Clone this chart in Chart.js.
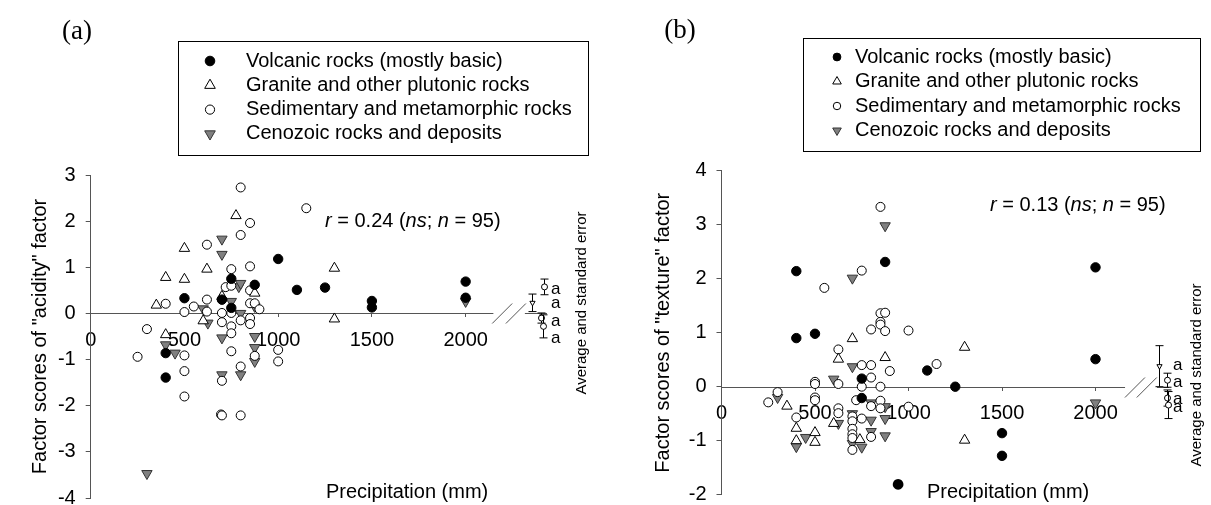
<!DOCTYPE html>
<html>
<head>
<meta charset="utf-8">
<title>Factor scores vs precipitation</title>
<script src="https://cdn.jsdelivr.net/npm/chart.js@4.4.1/dist/chart.umd.min.js"></script>
<style>
  html, body { margin: 0; padding: 0; background: #fff; }
  #wrap { position: relative; width: 1211px; height: 505px; overflow: hidden; }
  canvas { position: absolute; top: 0; }
</style>
</head>
<body>
<div id="wrap">
  <canvas id="chartA" width="605" height="505" style="left:0"></canvas>
  <canvas id="chartB" width="606" height="505" style="left:605px"></canvas>
</div>
<script>
const SANS = '"Liberation Sans", Arial, Helvetica, sans-serif';
const SERIF = '"Liberation Serif", "DejaVu Serif", "Times New Roman", serif';

const groups = [
  'Volcanic rocks (mostly basic)',
  'Granite and other plutonic rocks',
  'Sedimentary and metamorphic rocks',
  'Cenozoic rocks and deposits'
];
const xTicks = [0, 500, 1000, 1500, 2000];
const yTicksA = [-4, -3, -2, -1, 0, 1, 2, 3];
const yTicksB = [-2, -1, 0, 1, 2, 3, 4];

// (a) "acidity" factor scores: [precipitation (mm), score]
const volcanicA = [[400,-0.86],[400,-1.39],[500,0.33],[700,0.30],[750,0.75],[750,0.12],[875,0.62],
  [1000,1.18],[1100,0.51],[1250,0.56],[1500,0.27],[1500,0.13],[2000,0.69],[2000,0.34]];
const graniteA = [[350,0.18],[400,0.78],[400,-0.46],[500,1.41],[500,0.74],[600,-0.16],[620,0.96],
  [700,0.37],[775,2.12],[875,0.44],[1300,0.98],[1300,-0.12]];
const sedimentA = [[250,-0.94],[300,-0.34],[400,0.21],[500,0.03],[500,-0.91],[500,-1.25],[500,-1.80],
  [550,0.15],[620,1.49],[620,0.30],[620,0.04],[700,0.30],[700,0.01],[700,-0.19],[700,-1.46],[695,-2.19],
  [700,-2.21],[720,0.57],[750,0.96],[750,0.60],[750,0.01],[750,-0.28],[750,-0.43],[750,-0.82],[800,2.73],
  [800,1.70],[800,-0.15],[800,-1.15],[800,-2.21],[850,1.96],[850,1.02],[850,0.50],[850,0.22],[850,-0.10],
  [850,-0.23],[875,0.22],[875,-0.92],[900,0.09],[1000,-0.79],[1000,-1.04],[1150,2.28]];
const cenozoicA = [[300,-3.47],[400,-0.68],[450,-0.86],[600,0.10],[625,-0.21],[700,1.61],[700,1.28],
  [700,-0.53],[700,-1.33],[750,0.26],[790,0.58],[800,0.65],[800,0.00],[800,-1.33],[875,0.15],[875,-0.50],
  [875,-0.74],[875,-1.04],[2000,0.26]];

// (b) "texture" factor scores
const volcanicB = [[400,2.14],[400,0.90],[500,0.98],[750,0.15],[750,-0.21],[875,2.31],[1100,0.30],
  [1250,0.00],[1500,-0.86],[1500,-1.28],[2000,2.21],[2000,0.51]];
const graniteB = [[350,-0.36],[400,-0.77],[400,-1.00],[500,-0.85],[500,-1.03],[600,-0.68],[625,0.51],
  [700,0.89],[740,-0.98],[875,0.54],[1300,0.73],[1300,-0.99]];
const sedimentB = [[250,-0.29],[300,-0.10],[400,-0.57],[500,0.09],[500,0.05],[500,-0.20],[500,-0.25],
  [550,1.83],[625,0.69],[625,0.05],[625,-0.40],[625,-0.49],[700,-0.55],[700,-0.64],[700,-0.78],[700,-0.88],
  [700,-0.95],[700,-1.17],[720,-0.25],[750,2.15],[750,0.40],[750,0.00],[750,-0.59],[800,1.06],[800,0.40],
  [800,0.17],[800,-0.36],[800,-0.93],[850,3.33],[850,1.36],[850,1.20],[850,1.15],[850,0.00],[850,-0.26],
  [850,-0.40],[875,1.37],[875,1.03],[900,0.29],[1000,1.04],[1000,-0.37],[1150,0.42]];
const cenozoicB = [[300,-0.20],[400,-1.11],[450,-0.94],[600,0.14],[625,-0.68],[700,2.01],[700,0.37],
  [700,-0.50],[700,-1.05],[750,-1.12],[800,-0.30],[800,-0.62],[800,-0.83],[875,2.98],[875,-0.37],
  [875,-0.59],[875,-0.91],[2000,-0.30]];

// group averages and standard errors, drawn right of the axis break
const meanA = [0.23, 0.575, -0.10, -0.28];
const seA = [0.19, 0.17, 0.11, 0.25];
const meanPosA = [2352, 2419, 2400, 2410];
const letterYA = [0.53, 0.225, -0.17, -0.55];
const meanB = [0.38, 0.12, -0.21, -0.34];
const seB = [0.38, 0.13, 0.15, 0.25];
const meanPosB = [2341, 2384, 2384, 2390];
const letterYB = [0.40, 0.09, -0.23, -0.38];
const letters = ['a', 'a', 'a', 'a'];

const marks = [
  {pointStyle: 'circle', rotation: 0, radius: 4.7, bg: '#000', border: '#000'},
  {pointStyle: 'triangle', rotation: 0, radius: 6.0, bg: '#fff', border: '#000'},
  {pointStyle: 'circle', rotation: 0, radius: 4.5, bg: '#fff', border: '#000'},
  {pointStyle: 'triangle', rotation: 180, radius: 6.0, bg: '#808080', border: '#333'}
];
const meanMarks = [
  {pointStyle: 'triangle', rotation: 180, bg: '#fff', border: '#000'},
  {pointStyle: 'circle', rotation: 0, bg: '#fff', border: '#000'},
  {pointStyle: 'circle', rotation: 0, bg: '#fff', border: '#000'},
  {pointStyle: 'circle', rotation: 0, bg: '#fff', border: '#000'}
];

Chart.defaults.font.family = SANS;
Chart.defaults.color = '#000';

function mark(ctx, st, x, y, r) {
  ctx.fillStyle = st.bg;
  ctx.strokeStyle = st.border;
  ctx.lineWidth = 1;
  Chart.helpers.drawPoint(ctx, {pointStyle: st.pointStyle, rotation: st.rotation, radius: r, borderWidth: 1}, x, y);
}

function runs(ctx, parts, x, y, size) {
  ctx.textAlign = 'left';
  ctx.textBaseline = 'middle';
  ctx.fillStyle = '#000';
  parts.forEach(([t, it]) => {
    ctx.font = (it ? 'italic ' : '') + size + 'px ' + SANS;
    ctx.fillText(t, x, y);
    x += ctx.measureText(t).width;
  });
}

const panelDecor = {
  id: 'panelDecor',
  beforeDatasetsDraw(chart, args, o) {
    const {ctx, scales: {x, y}} = chart;
    const y0 = Math.round(y.getPixelForValue(0)) + 0.5;
    ctx.save();
    ctx.strokeStyle = '#555';
    ctx.lineWidth = 1;
    ctx.beginPath();
    o.axisParts.forEach(([a, b]) => {
      ctx.moveTo(x.getPixelForValue(a), y0);
      ctx.lineTo(x.getPixelForValue(b), y0);
    });
    o.slashes.forEach(v => {
      const p = x.getPixelForValue(v);
      ctx.moveTo(p - 10, y0 + 10);
      ctx.lineTo(p + 10, y0 - 10);
    });
    ctx.stroke();
    ctx.restore();
  },
  afterDraw(chart, args, o) {
    const {ctx, scales: {x, y}} = chart;
    ctx.save();

    // averages with standard error
    ctx.lineWidth = 1;
    o.mean.forEach((m, i) => {
      const px = Math.round(x.getPixelForValue(o.meanPos[i])) + 0.5;
      const t = y.getPixelForValue(m + o.se[i]);
      const b = y.getPixelForValue(m - o.se[i]);
      ctx.strokeStyle = '#000';
      ctx.beginPath();
      ctx.moveTo(px, t); ctx.lineTo(px, b);
      ctx.moveTo(px - 4, t); ctx.lineTo(px + 4, t);
      ctx.moveTo(px - 4, b); ctx.lineTo(px + 4, b);
      ctx.stroke();
      mark(ctx, meanMarks[i], px, y.getPixelForValue(m), 3);
    });
    ctx.fillStyle = '#000';
    ctx.font = '17px ' + SANS;
    ctx.textAlign = 'left';
    ctx.textBaseline = 'middle';
    letters.forEach((l, i) => ctx.fillText(l, o.letterX, y.getPixelForValue(o.letterY[i])));

    // legend
    const L = o.legend;
    ctx.strokeStyle = '#000';
    ctx.lineWidth = 1;
    ctx.strokeRect(L.box[0] + 0.5, L.box[1] + 0.5, L.box[2] - L.box[0], L.box[3] - L.box[1]);
    chart.data.datasets.forEach((ds, i) => {
      const ry = L.row0 + i * L.step;
      mark(ctx, marks[i], L.markX, ry, L.r * marks[i].radius / 4.7);
      ctx.fillStyle = '#000';
      ctx.font = '20px ' + SANS;
      ctx.textAlign = 'left';
      ctx.textBaseline = 'middle';
      ctx.fillText(ds.label, L.textX, ry);
    });

    // panel letter
    ctx.font = '27px ' + SERIF;
    ctx.textAlign = 'center';
    ctx.fillStyle = '#000';
    ctx.fillText(o.panel, o.panelPos[0], o.panelPos[1]);

    // correlation note
    runs(ctx, [['r', true], [' = ' + o.r + ' (', false], ['ns', true], ['; ', false], ['n', true], [' = ' + o.n + ')', false]],
      o.rPos[0], o.rPos[1], 20);

    // x axis title
    ctx.font = '20px ' + SANS;
    ctx.textAlign = 'left';
    ctx.fillStyle = '#000';
    ctx.fillText('Precipitation (mm)', o.xTitlePos[0], o.xTitlePos[1]);
    if (o.dot) {
      ctx.font = '14px "DejaVu Sans", sans-serif';
      ctx.textAlign = 'center';
      ctx.fillText('\u25CF', o.dot[0], o.dot[1]);
    }

    // vertical note
    ctx.translate(o.notePos[0], o.notePos[1]);
    ctx.rotate(-Math.PI / 2);
    ctx.font = '15px ' + SANS;
    ctx.textAlign = 'center';
    ctx.fillText('Average and standard error', 0, 0);
    ctx.restore();
  }
};

function buildChart(id, p) {
  const datasets = p.series.map((pts, i) => ({
    label: groups[i],
    data: pts.map(([x, y]) => ({x, y})),
    pointStyle: marks[i].pointStyle,
    pointRotation: marks[i].rotation,
    pointRadius: marks[i].radius,
    pointBackgroundColor: marks[i].bg,
    pointBorderColor: marks[i].border,
    pointBorderWidth: 1,
    showLine: false
  }));
  return new Chart(document.getElementById(id), {
    type: 'scatter',
    data: {datasets},
    plugins: [panelDecor],
    options: {
      responsive: false,
      animation: false,
      events: [],
      layout: {padding: p.pad},
      plugins: {
        legend: {display: false},
        tooltip: {enabled: false},
        panelDecor: p.decor
      },
      scales: {
        x: {
          type: 'linear',
          min: 0,
          max: p.xMax,
          position: {y: 0},
          afterBuildTicks: s => { s.ticks = xTicks.map(v => ({value: v})); },
          afterFit: s => { s.paddingLeft = 0; s.paddingRight = 0; },
          ticks: {autoSkip: false, maxRotation: 0, padding: 11, font: {size: 20}, color: '#000', callback: v => String(v)},
          grid: {drawOnChartArea: false, drawTicks: true, tickLength: 4, color: '#555'},
          border: {display: false}
        },
        y: {
          type: 'linear',
          min: p.yTicks[0],
          max: p.yTicks[p.yTicks.length - 1],
          afterBuildTicks: s => { s.ticks = p.yTicks.map(v => ({value: v})); },
          afterFit: s => { s.width = p.yWidth; s.paddingTop = 0; s.paddingBottom = 0; },
          ticks: {padding: 10, font: {size: 20}, color: '#000', callback: v => String(v)},
          grid: {drawOnChartArea: false, drawTicks: true, tickLength: 5, color: '#555'},
          border: {display: true, color: '#555', width: 1},
          title: {display: true, text: p.yTitle, font: {size: 20}, color: '#000', padding: {top: p.yTitlePad, bottom: 0}}
        }
      }
    }
  });
}

buildChart('chartA', {
  series: [volcanicA, graniteA, sedimentA, cenozoicA],
  yTicks: yTicksA,
  xMax: 2434,
  pad: {left: 0, right: 58, top: 175, bottom: 6.5},
  yWidth: 90.7,
  yTitle: 'Factor scores of "acidity" factor',
  yTitlePad: 28,
  decor: {
    axisParts: [[0, 2148], [2316, 2434]],
    slashes: [2195, 2268],
    mean: meanA, se: seA, meanPos: meanPosA, letterY: letterYA, letterX: 551,
    legend: {box: [178, 41, 588, 155], markX: 210, textX: 246, row0: 61, step: 24.3, r: 4.8},
    panel: '(a)', panelPos: [77, 32],
    r: '0.24', n: '95', rPos: [325, 221],
    xTitlePos: [326, 492],
    notePos: [582, 303]
  }
});

buildChart('chartB', {
  series: [volcanicB, graniteB, sedimentB, cenozoicB],
  yTicks: yTicksB,
  xMax: 2393,
  pad: {left: 0, right: 42, top: 170.7, bottom: 10.3},
  yWidth: 116.5,
  yTitle: 'Factor scores of "texture" factor',
  yTitlePad: 46,
  decor: {
    axisParts: [[0, 2158], [2329, 2393]],
    slashes: [2211, 2274],
    mean: meanB, se: seB, meanPos: meanPosB, letterY: letterYB, letterX: 568,
    legend: {box: [198, 38, 595, 151], markX: 232, textX: 250, row0: 57, step: 24.5, r: 3.9},
    panel: '(b)', panelPos: [75, 31],
    r: '0.13', n: '95', rPos: [385, 205],
    xTitlePos: [322, 492],
    dot: [293, 484],
    notePos: [592, 375]
  }
});
</script>
</body>
</html>
